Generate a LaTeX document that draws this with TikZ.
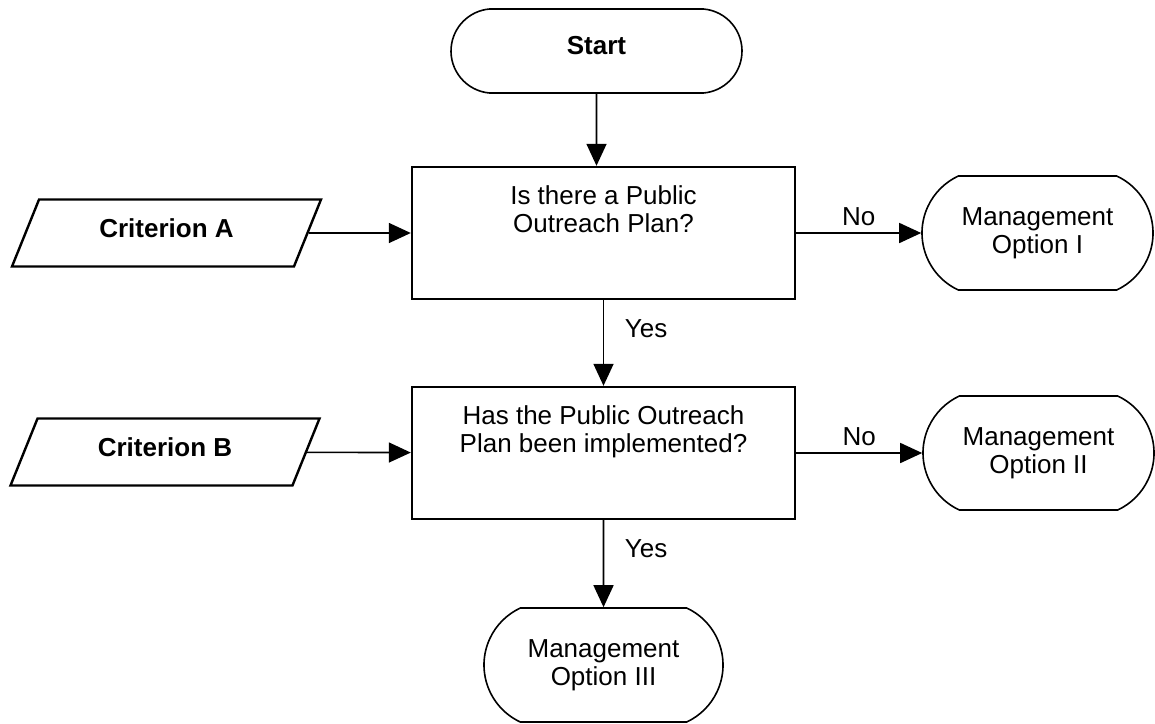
\documentclass[tikz,border=0pt]{standalone}
\usepackage{fontspec}
\setmainfont{Liberation Sans}
\usetikzlibrary{shapes.misc,shapes.geometric,arrows.meta}

\begin{document}
\begin{tikzpicture}[x=0.5pt,y=-0.5pt,
                font=\fontsize{13}{14}\selectfont,
                >={Triangle[length=11pt,width=10pt]},
                term/.style={draw,rounded rectangle,rounded rectangle arc length=130,line width=0.8pt,
                    minimum width=115.5pt,minimum height=57pt,inner sep=0pt,align=center},
                test/.style={draw,line width=1.2pt,minimum width=191.5pt,minimum height=66pt,
                    inner ysep=9pt,text height=23.5pt,text depth=24.5pt,align=center},
                data/.style={draw,trapezium,trapezium left angle=47,trapezium right angle=133,
                    trapezium stretches body,line width=1.2pt,minimum width=154.5pt,minimum height=33.5pt,
                    inner sep=0pt,text height=9.5pt,text depth=5pt,font=\fontsize{13}{14}\selectfont\bfseries},
                flow/.style={->,line width=0.8pt}]
                \useasboundingbox (0,0) rectangle (1155,723);
                \node[term,rounded rectangle arc length=170,minimum width=145.5pt,minimum height=42pt,
                    text height=22.7pt,text depth=19.3pt,font=\fontsize{13}{14}\selectfont\bfseries](STRT) at (596.5,51) {Start};
                \node[test](PLAN) at (603.5,233) {Is there a Public\\Outreach Plan?};
                \node[test](IMPL) at (603.5,453) {Has the Public Outreach\\Plan been implemented?};
                \node[data](CRTA) at (166.5,233) {Criterion A};
                \node[data](CRTB) at (165,452) {Criterion B};
                \node[term](OPT1) at (1037.5,233) {Management\\Option I};
                \node[term](OPT2) at (1038.5,453) {Management\\Option II};
                \node[term,minimum width=119.5pt](OPT3) at (603.5,665) {Management\\Option III};
                \draw[flow] (STRT) -- (STRT |- PLAN.north);
                \draw[flow] (CRTA) -- (PLAN);
                \draw[flow] (CRTB) -- (IMPL);
                \draw[flow] (PLAN) -- (OPT1) node[midway,above]{No};
                \draw[flow] (IMPL) -- (OPT2) node[midway,above]{No};
                \draw[flow] (PLAN) -- (IMPL) node[pos=0.33,right=7pt]{Yes};
                \draw[flow] (IMPL) -- (OPT3) node[pos=0.33,right=7pt]{Yes};
            \end{tikzpicture}
\end{document}
